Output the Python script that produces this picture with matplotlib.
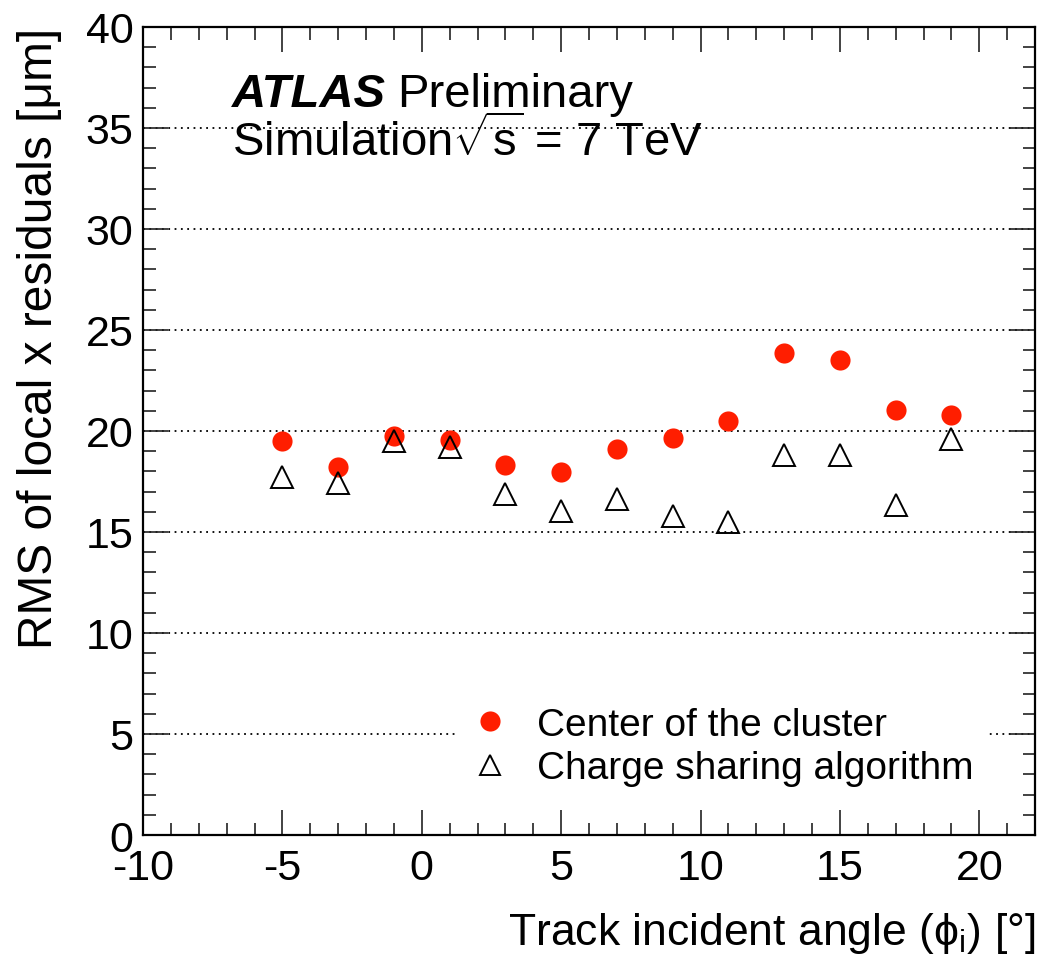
import numpy as np
import matplotlib
matplotlib.use("Agg")
import matplotlib.pyplot as plt
from matplotlib.ticker import MultipleLocator

plt.rcParams['font.family'] = ['Liberation Sans', 'DejaVu Sans']
plt.rcParams['mathtext.fontset'] = 'custom'
plt.rcParams['mathtext.rm'] = 'Liberation Sans'
plt.rcParams['mathtext.it'] = 'Liberation Sans:italic'
plt.rcParams['mathtext.bf'] = 'Liberation Sans:bold'
plt.rcParams['axes.unicode_minus'] = False

# track incident angle (deg)
angle = [-5, -3, -1, 1, 3, 5, 7, 9, 11, 13, 15, 17, 19]
# RMS of local x residuals (um)
rms_center = [19.5, 18.2, 19.75, 19.55, 18.3, 17.95, 19.1, 19.65, 20.5, 23.85, 23.5, 21.05, 20.8]
rms_charge = [17.7, 17.45, 19.5, 19.2, 16.9, 16.05, 16.65, 15.8, 15.5, 18.8, 18.8, 16.35, 19.6]

W, H = 1041, 970
fig = plt.figure(figsize=(W / 100, H / 100), dpi=100)
ax = fig.add_axes([143 / W, 1 - 836 / H, (1035 - 143) / W, (836 - 28) / H])

ax.set_xlim(-10, 22)
ax.set_ylim(0, 40)

ax.plot(angle, rms_center, 'o', color='#ff1e00', markersize=14.5,
        markeredgewidth=0, label='Center of the cluster', zorder=3)
ax.plot(angle, rms_charge, '^', color='black', markerfacecolor='none',
        markersize=15.5, markeredgewidth=1.4, label='Charge sharing algorithm', zorder=4)

ax.xaxis.set_major_locator(MultipleLocator(5))
ax.xaxis.set_minor_locator(MultipleLocator(1))
ax.yaxis.set_major_locator(MultipleLocator(5))
ax.yaxis.set_minor_locator(MultipleLocator(1))
ax.tick_params(which='both', direction='in', top=True, right=True, width=1.2,
               labelsize=31, color='#222222')
ax.tick_params(which='major', length=18)
ax.tick_params(which='minor', length=9)
ax.tick_params(axis='x', pad=9)
ax.tick_params(axis='y', pad=7)
for s in ax.spines.values():
    s.set_linewidth(1.6)

ax.grid(axis='y', which='major', linestyle=(0, (1, 2.5)), color='black', linewidth=1.3)
ax.set_axisbelow(True)

ax.set_xlabel('Track incident angle (\u03d5$_{\\mathrm{i}}$) [°]', fontsize=32,
              loc='right', labelpad=16)
ax.set_ylabel('RMS of local x residuals [μm]', fontsize=34.5, loc='top', labelpad=17)

fig.text(232 / W, 1 - 107 / H, 'ATLAS', fontsize=34, fontweight='bold',
         fontstyle='italic', va='baseline')
fig.text(397 / W, 1 - 107 / H, 'Preliminary', fontsize=34, va='baseline')
fig.text(232 / W, 1 - 157 / H, r'Simulation$\sqrt{\mathrm{s}}$ = 7 TeV', fontsize=34,
         va='baseline')

leg = ax.legend(loc='upper left', bbox_to_anchor=(455 / W, 1 - 692 / H),
                bbox_transform=fig.transFigure, fontsize=28, frameon=True,
                framealpha=1, edgecolor='none', fancybox=False, borderpad=0.4,
                handlelength=1.0, handletextpad=0.7, labelspacing=0.2,
                borderaxespad=0)
leg.legend_handles[1].set_markersize(14)

fig.savefig('out.png', dpi=100)
